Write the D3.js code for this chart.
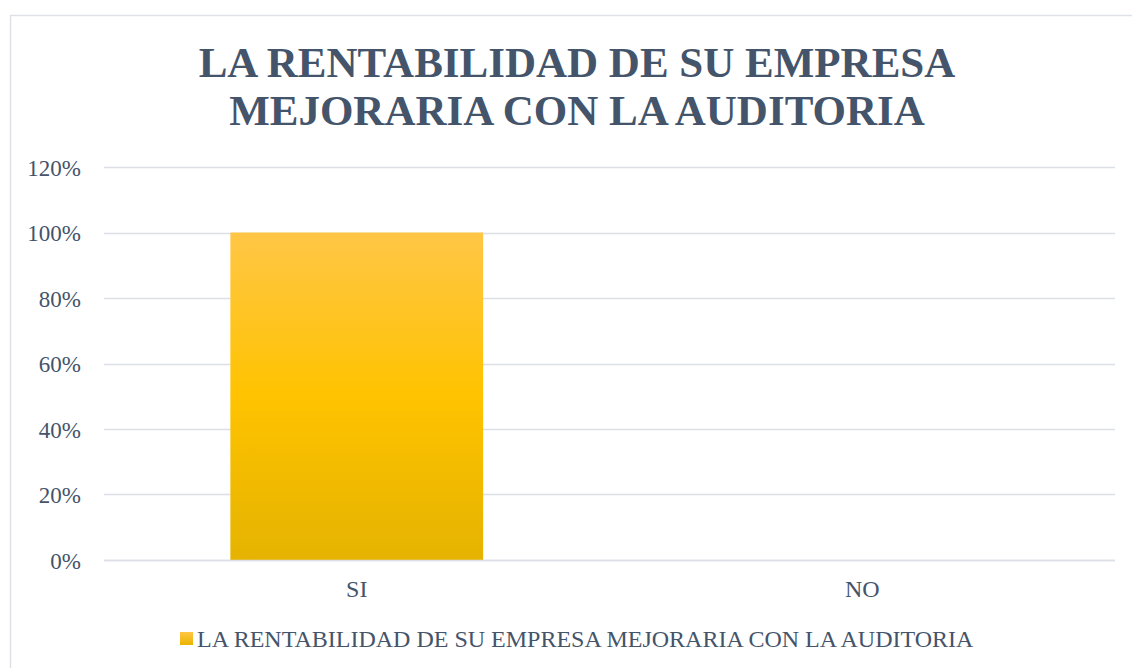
<!DOCTYPE html>
<html>
<head>
<meta charset="utf-8">
<script src="https://cdn.jsdelivr.net/npm/d3@7"></script>
<style>
  html, body { margin: 0; padding: 0; background: #fff; }
  svg { display: block; }
</style>
</head>
<body>
<svg id="chart"></svg>
<script>
// chart data
const titleLines = ["LA RENTABILIDAD DE SU EMPRESA", "MEJORARIA CON LA AUDITORIA"];
const categories = ["SI", "NO"];
const values = [1.0, 0.0];
const yTicks = [0, 0.2, 0.4, 0.6, 0.8, 1.0, 1.2];
const seriesName = "LA RENTABILIDAD DE SU EMPRESA MEJORARIA CON LA AUDITORIA";

const width = 1132, height = 668;
const textColor = "#44546A";
const gridColor = "#DCE0E6";
const font = "'Liberation Serif', 'Times New Roman', serif";

const svg = d3.select("#chart").attr("width", width).attr("height", height);

// outer chart border
svg.append("rect")
    .attr("x", 10.5).attr("y", 15.5)
    .attr("width", width + 10).attr("height", height + 10)
    .attr("fill", "none")
    .attr("stroke", "#DEE2E8")
    .attr("stroke-width", 1.5);

// gradient for the bar
const defs = svg.append("defs");
const grad = defs.append("linearGradient")
    .attr("id", "barGrad")
    .attr("x1", 0).attr("y1", 0).attr("x2", 0).attr("y2", 1);
grad.append("stop").attr("offset", "0%").attr("stop-color", "#FFC646");
grad.append("stop").attr("offset", "50%").attr("stop-color", "#FFC300");
grad.append("stop").attr("offset", "100%").attr("stop-color", "#E5B300");

const legGrad = defs.append("linearGradient")
    .attr("id", "legGrad")
    .attr("x1", 0).attr("y1", 0).attr("x2", 0).attr("y2", 1);
legGrad.append("stop").attr("offset", "0%").attr("stop-color", "#FFC646");
legGrad.append("stop").attr("offset", "100%").attr("stop-color", "#EAB400");

// title
const title = svg.append("text")
    .attr("text-anchor", "middle")
    .attr("font-family", font)
    .attr("font-weight", "bold")
    .attr("font-size", 43)
    .attr("fill", textColor);
titleLines.forEach((t, i) => {
    title.append("tspan")
        .attr("x", 577)
        .attr("y", 77 + i * 48)
        .text(t);
});

// scales
const plot = { left: 104, right: 1115, top: 167, bottom: 560 };

const x = d3.scaleBand()
    .domain(categories)
    .range([plot.left, plot.right])
    .paddingInner(0.5)
    .paddingOuter(0.25);

const y = d3.scaleLinear()
    .domain([0, 1.2])
    .range([plot.bottom, plot.top]);

// gridlines
svg.append("g")
    .selectAll("line")
    .data(yTicks)
    .join("line")
    .attr("x1", plot.left).attr("x2", plot.right)
    .attr("y1", d => Math.round(y(d)) + 0.5)
    .attr("y2", d => Math.round(y(d)) + 0.5)
    .attr("stroke", gridColor)
    .attr("stroke-width", 1.5);

// y axis labels
const yAxis = svg.append("g")
    .attr("transform", `translate(${plot.left - 23},0)`)
    .call(d3.axisLeft(y).tickValues(yTicks).tickFormat(d3.format(".0%")).tickSize(0).tickPadding(0));
yAxis.select(".domain").remove();
yAxis.selectAll("text")
    .attr("font-family", font)
    .attr("font-size", 23)
    .attr("fill", textColor)
    .attr("dy", "0.35em");

// bars
svg.append("g")
    .selectAll("rect")
    .data(categories.map((c, i) => ({ c, v: values[i] })))
    .join("rect")
    .attr("x", d => x(d.c))
    .attr("width", x.bandwidth())
    .attr("y", d => y(d.v))
    .attr("height", d => y(0) - y(d.v))
    .attr("fill", "url(#barGrad)");

// redraw baseline above bar
svg.append("line")
    .attr("x1", plot.left).attr("x2", plot.right)
    .attr("y1", Math.round(y(0)) + 0.5).attr("y2", Math.round(y(0)) + 0.5)
    .attr("stroke", gridColor)
    .attr("stroke-width", 1.5);

// x axis labels
const xAxis = svg.append("g")
    .attr("transform", `translate(0,${plot.bottom + 37})`)
    .call(d3.axisBottom(x).tickSize(0).tickPadding(0));
xAxis.select(".domain").remove();
xAxis.selectAll("text")
    .attr("font-family", font)
    .attr("font-size", 24)
    .attr("fill", textColor)
    .attr("dy", 0);

// legend
const legend = svg.append("g");
legend.append("rect")
    .attr("x", 180).attr("y", 632)
    .attr("width", 13).attr("height", 13)
    .attr("fill", "url(#legGrad)");
legend.append("text")
    .attr("x", 197).attr("y", 647)
    .attr("font-family", font)
    .attr("font-size", 24)
    .attr("fill", textColor)
    .text(seriesName);
</script>
</body>
</html>
